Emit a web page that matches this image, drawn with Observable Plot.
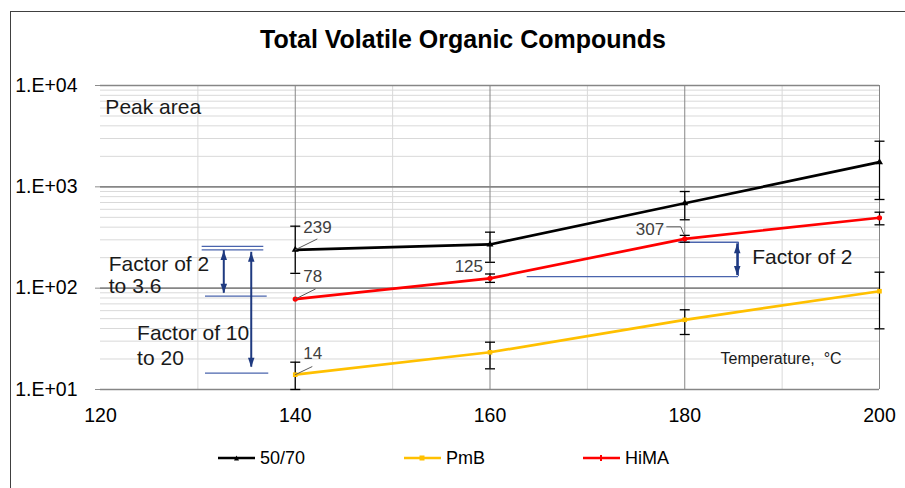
<!DOCTYPE html>
<html><head><meta charset="utf-8">
<script src="https://cdn.jsdelivr.net/npm/d3@7"></script>
<script src="https://cdn.jsdelivr.net/npm/@observablehq/plot@0.6"></script>
<style>
body{margin:0;background:#fff;font-family:"Liberation Sans",Arial,sans-serif;}
#wrap{position:relative;width:905px;height:488px;overflow:hidden;background:#fff;}
#frame{position:absolute;left:10px;top:11px;width:900px;height:480px;border-top:1.5px solid #404040;border-left:1.5px solid #404040;pointer-events:none;}
#title{position:absolute;top:0;left:0;width:926px;height:60px;text-align:center;font-weight:bold;font-size:25px;line-height:25px;padding-top:27px;box-sizing:border-box;color:#000;}
#chart{position:absolute;top:60px;left:0;}
#legend{position:absolute;top:440px;left:0;width:905px;height:48px;}
.item{position:absolute;top:1px;height:34px;display:flex;align-items:center;font-size:18px;color:#000;}
.item svg{margin-right:5px;}
#chart svg g[aria-label^="y-axis"] line, #chart svg g[aria-label="y-axis tick"] path{stroke:#8c8c8c;}
</style></head>
<body><div id="wrap"><div id="title">Total Volatile Organic Compounds</div><div id="chart"></div><div id="legend"></div><div id="frame"></div></div>
<script>
// ---- data ----
const temps = [140, 160, 180, 200];
const series = ["50/70", "PmB", "HiMA"];
const colors = ["#000000", "#ffc000", "#ff0000"];
const val5070 = [239, 270, 689, 1751];
const valPmB  = [14, 23.3, 48.7, 93.3];
const valHiMA = [78, 125, 307, 495];
const lo5070 = [140, 180, 473, 750];
const hi5070 = [409, 357, 899, 2820];
const loPmB  = [10, 16.0, 34.9, 39.7];
const hiPmB  = [18.6, 29.3, 61.2, 143.8];
const loHiMA = [null, 114, 284, 422];
const hiHiMA = [null, 138, 332, 562];
const xTicks = [120, 140, 160, 180, 200];
const yTicks = [10, 100, 1000, 10000];
const xMinorGrid = [130, 150, 170, 190];
const xMajorGrid = [140, 160, 180, 200];
const yMinorFactors = [2, 3, 4, 5, 6, 7, 8, 9];

// value labels on points
const pointLabels = [
  {series: "50/70", t: 140, text: "239"},
  {series: "HiMA", t: 140, text: "78"},
  {series: "PmB", t: 140, text: "14"},
  {series: "HiMA", t: 160, text: "125"},
  {series: "HiMA", t: 180, text: "307"}
];

// annotations (data coordinates)
const bracketLines = [
  {y: 258, x1: 130.44, x2: 136.77},
  {y: 239, x1: 130.44, x2: 136.77},
  {y: 83.3, x1: 130.78, x2: 137.12},
  {y: 14.5, x1: 130.78, x2: 137.28},
  {y: 130, x1: 163.82, x2: 185.52},
  {y: 284, x1: 179.39, x2: 185.52}
];
const bracketVerticals = [{x: 185.52, y1: 130, y2: 284}];
const arrows = [
  {x: 132.66, y1: 235, y2: 89},
  {x: 135.48, y1: 226, y2: 16.6},
  {x: 185.39, y1: 274, y2: 133}
];
const notes = [
  {text: "Peak area", x: 120.5, y: 6067, size: 21},
  {text: "Factor of 2", x: 120.85, y: 171, size: 21},
  {text: "to 3.6", x: 120.85, y: 104, size: 21},
  {text: "Factor of 10", x: 123.76, y: 35.7, size: 21},
  {text: "to 20", x: 123.76, y: 20.4, size: 21},
  {text: "Factor of 2", x: 186.92, y: 202, size: 21},
  {text: "Temperature,  °C", x: 183.67, y: 20.2, size: 16}
];

// ---- layout / styles ----
const W = 905, H = 380, mL = 100, mR = 26, mT = 25, mB = 51;
const xs = d3.scaleLinear([120, 200], [mL, W - mR]);
const ys = d3.scaleLog([10, 10000], [H - mB, mT]);
const labelStyle = [
  {dx: 8, dy: -22, anchor: "start", leader: [[0, 0], [21.7, -10.7]]},
  {dx: 8, dy: -22.6, anchor: "start", leader: [[0, 0], [20, -10]]},
  {dx: 8, dy: -21, anchor: "start", leader: [[0, 0], [16.7, -8]]},
  {dx: -7, dy: -12, anchor: "end", leader: []},
  {dx: -20.6, dy: -9.6, anchor: "end", leader: [[-18, -12], [-4, -12], [-1, -5]]}
];

const valuesBy = {"50/70": val5070, "PmB": valPmB, "HiMA": valHiMA};
const loBy = {"50/70": lo5070, "PmB": loPmB, "HiMA": loHiMA};
const hiBy = {"50/70": hi5070, "PmB": hiPmB, "HiMA": hiHiMA};
const rows = series.flatMap(s => temps.map((t, i) => ({series: s, t, v: valuesBy[s][i], lo: loBy[s][i], hi: hiBy[s][i]})));
const errRows = rows.filter(d => d.lo != null);
const yMinor = yTicks.slice(0, 3).flatMap(d => yMinorFactors.map(f => d * f));

const labelRows = pointLabels.map((p, i) => {
  const v = valuesBy[p.series][temps.indexOf(p.t)];
  return {...p, v, ...labelStyle[i]};
});
const leaderRows = labelRows.flatMap((p, i) => p.leader.map(([dx, dy]) => ({
  id: i, x: xs.invert(xs(p.t) + dx), y: ys.invert(ys(p.v) + dy)
})));

const capSymbol = {draw(ctx, size) { const r = Math.sqrt(size / Math.PI); ctx.moveTo(-r, 0); ctx.lineTo(r, 0); }};
const headUp = {draw(ctx, size) { const r = Math.sqrt(size / Math.PI); ctx.moveTo(0, 0); ctx.lineTo(-r * 0.65, r * 1.9); ctx.lineTo(r * 0.65, r * 1.9); ctx.closePath(); }};
const headDown = {draw(ctx, size) { const r = Math.sqrt(size / Math.PI); ctx.moveTo(0, 0); ctx.lineTo(-r * 0.65, -r * 1.9); ctx.lineTo(r * 0.65, -r * 1.9); ctx.closePath(); }};
const markerSymbols = {"50/70": "triangle", "PmB": "square", "HiMA": "circle"};
const colorOf = s => colors[series.indexOf(s)];
const navy = "#1f3a80", bracketBlue = "#4a64ad";

const chart = Plot.plot({
  width: W, height: H,
  marginLeft: mL, marginRight: mR, marginTop: mT, marginBottom: mB,
  style: {fontFamily: "'Liberation Sans', Arial, sans-serif", fontSize: "19.5px", color: "#000", background: "transparent", overflow: "visible"},
  x: {domain: [120, 200], ticks: xTicks, tickSize: 0, tickPadding: 19, label: null, tickFormat: d => String(d)},
  y: {type: "log", domain: [10, 10000], ticks: yTicks, tickSize: 5, tickPadding: 18, label: null,
      tickFormat: d => "1.E+" + String(Math.round(Math.log10(d))).padStart(2, "0")},
  marks: [
    Plot.ruleY(yMinor, {stroke: "#d9d9d9", strokeWidth: 1}),
    Plot.ruleX(xMinorGrid, {stroke: "#d9d9d9", strokeWidth: 1}),
    Plot.ruleX(xMajorGrid, {stroke: "#868686", strokeWidth: 1}),
    Plot.ruleY(yTicks, {stroke: "#868686", strokeWidth: 1.6}),
    // bracket annotations
    Plot.ruleY(bracketLines, {y: "y", x1: "x1", x2: "x2", stroke: bracketBlue, strokeWidth: 1.3}),
    Plot.ruleX(bracketVerticals, {x: "x", y1: "y1", y2: "y2", stroke: bracketBlue, strokeWidth: 1}),
    Plot.ruleX(arrows, {x: "x", y1: "y1", y2: "y2", stroke: navy, strokeWidth: 2}),
    Plot.dot(arrows, {x: "x", y: "y1", symbol: headUp, r: 5, fill: navy, stroke: "none"}),
    Plot.dot(arrows, {x: "x", y: "y2", symbol: headDown, r: 5, fill: navy, stroke: "none"}),
    // error bars
    Plot.ruleX(errRows, {x: "t", y1: "lo", y2: "hi", stroke: "#000", strokeWidth: 1.2}),
    Plot.dot(errRows, {x: "t", y: "lo", symbol: capSymbol, r: 5, stroke: "#000", strokeWidth: 1.3, fill: "none"}),
    Plot.dot(errRows, {x: "t", y: "hi", symbol: capSymbol, r: 5, stroke: "#000", strokeWidth: 1.3, fill: "none"}),
    // series
    ...series.map(s => Plot.line(rows.filter(d => d.series === s), {x: "t", y: "v", stroke: colorOf(s), strokeWidth: 2.7})),
    ...series.map(s => Plot.dot(rows.filter(d => d.series === s), {x: "t", y: "v", symbol: markerSymbols[s], r: 2.6, fill: colorOf(s), stroke: "none"})),
    // value labels
    Plot.line(leaderRows, {x: "x", y: "y", z: "id", stroke: "#595959", strokeWidth: 1}),
    ...labelRows.map(p => Plot.text([p], {x: "t", y: "v", text: "text", dx: p.dx, dy: p.dy, textAnchor: p.anchor, lineAnchor: "middle", fontSize: 17, fill: "#404040"})),
    // notes
    ...notes.map(n => Plot.text([n], {x: "x", y: "y", text: "text", textAnchor: "start", lineAnchor: "middle", fontSize: n.size, fill: "#1a1a1a"}))
  ]
});
document.getElementById("chart").appendChild(chart);

// legend
const legend = document.getElementById("legend");
const legendLeft = [218, 404, 583];
series.forEach((s, i) => {
  const item = document.createElement("div");
  item.className = "item";
  item.style.left = legendLeft[i] + "px";
  const c = colorOf(s);
  let marker = "";
  if (s === "50/70") marker = `<path d="M16,8.5 L18.5,3.5 L21,8.5Z" fill="${c}"/>`;
  else if (s === "PmB") marker = `<rect x="15.5" y="3.5" width="5" height="5" fill="${c}"/>`;
  else marker = `<rect x="17" y="3" width="2" height="6" fill="${c}"/>`;
  item.innerHTML = `<svg width="37" height="12" viewBox="0 0 37 12"><line x1="0" y1="6" x2="37" y2="6" stroke="${c}" stroke-width="2.7"/>${marker}</svg><span>${s}</span>`;
  legend.appendChild(item);
});
</script></body></html>
